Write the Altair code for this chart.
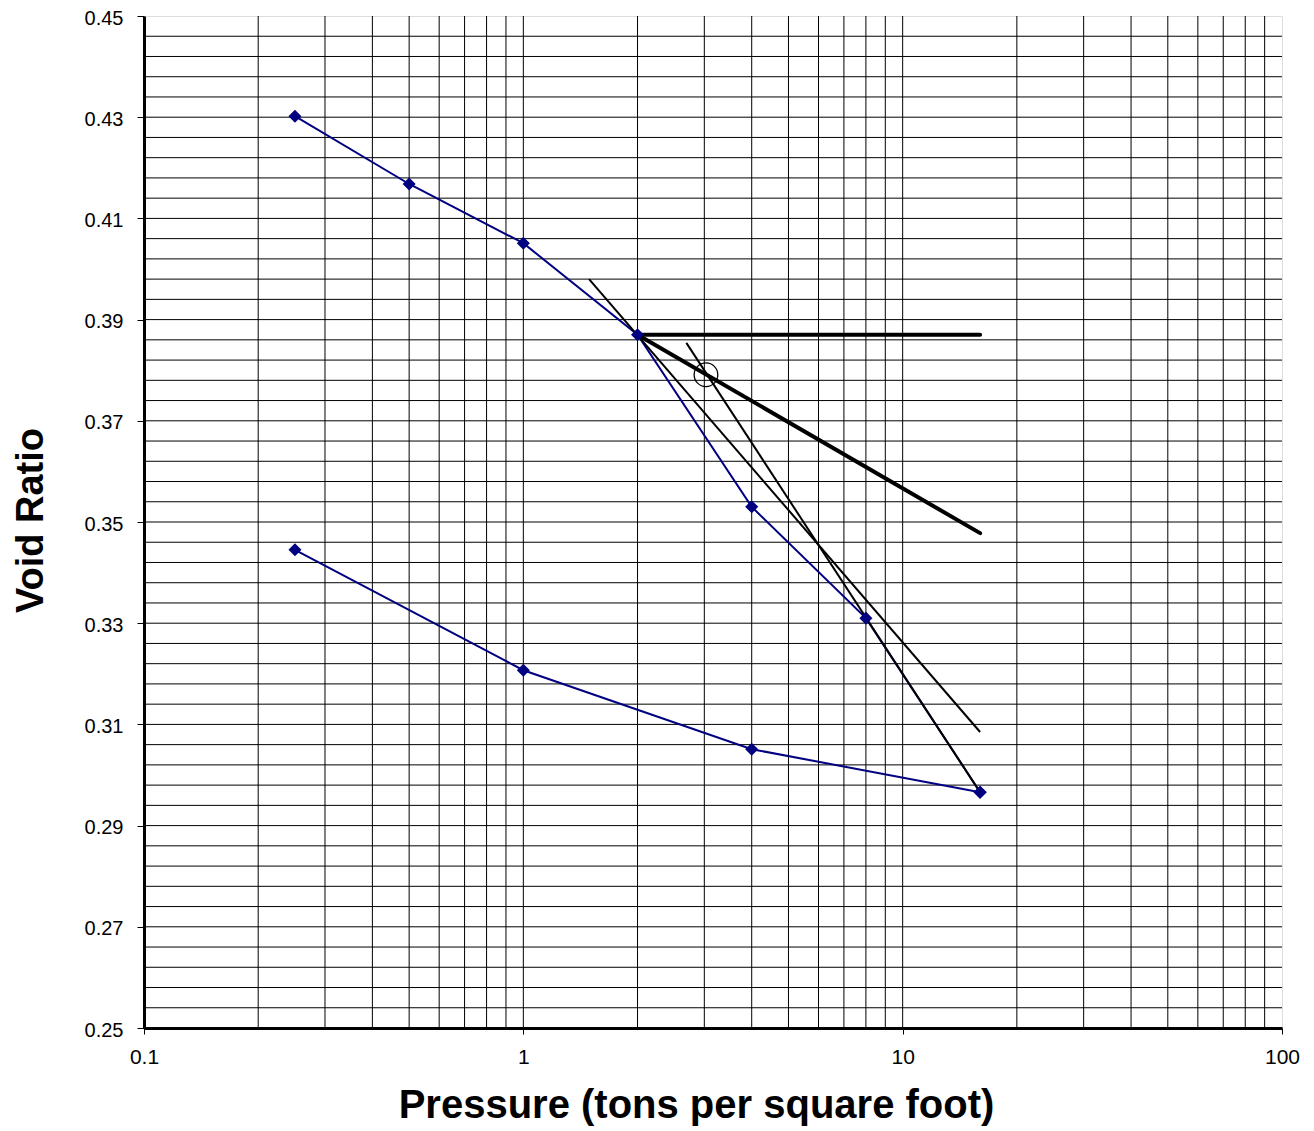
import altair as alt
import pandas as pd

# Loading curve
load_p = [0.25, 0.5, 1, 2, 4, 8, 16]
load_e = [0.4302, 0.4168, 0.4051, 0.3870, 0.3530, 0.3310, 0.2966]
# Unloading (rebound) curve
unload_p = [16, 4, 1, 0.25]
unload_e = [0.2966, 0.3051, 0.3207, 0.3445]

# Casagrande construction lines
thick_seg = ["horizontal", "horizontal", "bisector", "bisector"]
thick_p = [2, 16, 2, 16]
thick_e = [0.3870, 0.3870, 0.3870, 0.3478]
thin_seg = ["tangent", "tangent", "virgin", "virgin"]
thin_p = [1.49, 16, 2.69, 16]
thin_e = [0.3980, 0.3085, 0.3854, 0.2966]

# Preconsolidation pressure marker
circle_p = [3.03]
circle_e = [0.3791]

x_ticks = [0.1, 1, 10, 100]
y_ticks = [0.25, 0.27, 0.29, 0.31, 0.33, 0.35, 0.37, 0.39, 0.41, 0.43, 0.45]
x_grid = [0.2, 0.3, 0.4, 0.5, 0.6, 0.7, 0.8, 0.9, 1,
          2, 3, 4, 5, 6, 7, 8, 9, 10,
          20, 30, 40, 50, 60, 70, 80, 90]
y_grid = [round(0.25 + 0.004 * i, 3) for i in range(1, 50)]

FONT = "Liberation Sans"
xs = alt.Scale(type="log", domain=[0.1, 100], nice=False)
ys = alt.Scale(domain=[0.25, 0.45], nice=False, zero=False)

x_axis = alt.Axis(values=x_ticks, format="~g", title="Pressure (tons per square foot)",
                  grid=False, tickSize=6, labelPadding=12, labelFontSize=21,
                  labelFont=FONT, labelColor="black", tickColor="black",
                  titleFont=FONT, titleFontSize=40, titleFontWeight="bold",
                  titleColor="black", titleBaseline="alphabetic", titleAlign="center",
                  titleX=552, titleY=89, domainWidth=3, domainColor="black",
                  labelFlush=False)
y_axis = alt.Axis(values=y_ticks, format=".2f", title="Void Ratio",
                  grid=False, tickSize=7, labelPadding=14, labelFontSize=20,
                  labelFont=FONT, labelColor="black", tickColor="black",
                  titleFont=FONT, titleFontSize=38, titleFontWeight="bold",
                  titleColor="black", titleBaseline="alphabetic", titleAlign="center",
                  titleAngle=270, titleX=-102, titleY=504, domainWidth=3,
                  domainColor="black", labelFlush=False, labelBaseline="alphabetic",
                  labelOffset=8)

base_x = alt.X("p:Q", scale=xs, axis=x_axis)
base_y = alt.Y("e:Q", scale=ys, axis=y_axis)

vgrid = alt.Chart(pd.DataFrame({"p": x_grid})).mark_rule(
    color="black", strokeWidth=1).encode(x=alt.X("p:Q", scale=xs, axis=x_axis))
hgrid = alt.Chart(pd.DataFrame({"e": y_grid})).mark_rule(
    color="black", strokeWidth=1).encode(y=alt.Y("e:Q", scale=ys, axis=y_axis))

curves = pd.concat([
    pd.DataFrame({"p": load_p, "e": load_e, "s": "load", "o": range(len(load_p))}),
    pd.DataFrame({"p": unload_p, "e": unload_e, "s": "unload", "o": range(len(unload_p))}),
])
curve_lines = alt.Chart(curves).mark_line(color="#000080", strokeWidth=2).encode(
    x=base_x, y=base_y, detail="s:N", order="o:Q")
curve_pts = alt.Chart(curves).mark_point(
    shape="diamond", filled=True, color="#000080", size=170, opacity=1).encode(x=base_x, y=base_y)

thick = alt.Chart(pd.DataFrame({"p": thick_p, "e": thick_e, "s": thick_seg})).mark_line(
    color="black", strokeWidth=4, strokeCap="round").encode(x=base_x, y=base_y, detail="s:N")
thin = alt.Chart(pd.DataFrame({"p": thin_p, "e": thin_e, "s": thin_seg})).mark_line(
    color="black", strokeWidth=2).encode(x=base_x, y=base_y, detail="s:N")
circ = alt.Chart(pd.DataFrame({"p": circle_p, "e": circle_e})).mark_point(
    shape="circle", filled=False, color="black", size=560, strokeWidth=1.3, opacity=1).encode(
    x=base_x, y=base_y)

chart = alt.layer(vgrid, hgrid, curve_lines, thick, thin, curve_pts, circ).properties(
    width=1138, height=1012,
    autosize=alt.AutoSizeParams(type="none"),
    padding={"left": 136, "top": 8, "right": 24, "bottom": 103},
).configure_view(stroke="black", strokeWidth=2).configure(background="white")

chart.save("out.html", embed_options={"renderer": "svg", "actions": False})
